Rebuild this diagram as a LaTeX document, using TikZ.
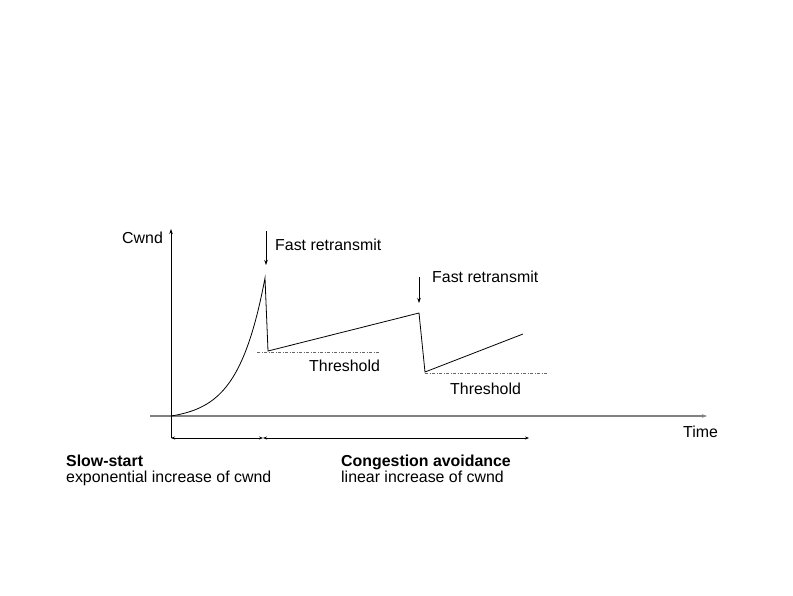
\documentclass[tikz,border=0pt]{standalone}
\usepackage{fontspec}
\setmainfont{Liberation Sans}
\usetikzlibrary{arrows.meta}
\begin{document}
\begin{tikzpicture}[x=1pt,y=-1pt,
  lbl/.style={anchor=base west,inner sep=0pt,font=\fontsize{15.9}{18}\selectfont},
  boldlbl/.style={lbl,font=\fontsize{15.9}{18}\selectfont\bfseries},
  tip/.style={-{Stealth[length=5pt,width=3.5pt]}},
  span/.style={{Stealth[length=4pt,width=3pt]}-{Stealth[length=4pt,width=3pt]},line width=0.6pt},
  thresh/.style={black!60,line width=0.9pt,dash pattern=on 3pt off 1.5pt on 1pt off 1.5pt},
  cwndline/.style={line width=0.8pt,line join=miter}]
\useasboundingbox (0,0) rectangle (793,595);

% axes
\coordinate (o) at (171,416);
\coordinate (xs) at (150,416);
\coordinate (xe) at (707,416);
\coordinate (yb) at (171,438);
\coordinate (ye) at (171,229);
\draw[gray,line width=1.2pt,-{Stealth[length=5pt,width=3.5pt]}] (xs) -- (xe);
\draw[tip,line width=0.7pt] (yb) -- (ye);
\node[lbl] (cwnd) at (122,243) {Cwnd};
\node[lbl] (time) at (683,437) {Time};

% congestion window
\coordinate (p1) at (265,278);
\coordinate (b1) at (268,351);
\coordinate (p2) at (419,313);
\coordinate (b2) at (425,372);
\coordinate (e2) at (523,334);
\draw[cwndline] plot[domain=0:94,samples=60,smooth] ({171+\x},{416-138*(exp(3.5*\x/94)-1)/(exp(3.5)-1)})
  -- (b1) -- (p2) -- (b2) -- (e2);

% thresholds
\coordinate (t1s) at (257,352);
\coordinate (t1e) at (380,352);
\coordinate (t2s) at (425,373);
\coordinate (t2e) at (547,373);
\draw[thresh] (t1s) -- (t1e);
\draw[thresh] (t2s) -- (t2e);
\node[lbl] (th1) at (309,371) {Threshold};
\node[lbl] (th2) at (450,394) {Threshold};

% fast retransmit markers
\coordinate (f1a) at (266,231);
\coordinate (f1b) at (266,265);
\coordinate (f2a) at (419,277);
\coordinate (f2b) at (419,303);
\draw[tip,line width=0.6pt] (f1a) -- (f1b);
\draw[tip,line width=0.6pt] (f2a) -- (f2b);
\node[lbl] (fr1) at (275,250) {Fast retransmit};
\node[lbl] (fr2) at (432,282) {Fast retransmit};

% phase spans
\coordinate (s0) at (171,438);
\coordinate (s1) at (263,438);
\coordinate (s2) at (529,438);
\draw[span] (s0) -- (s1);
\draw[span] (s1) -- (s2);
\node[boldlbl] (ss) at (66,466) {Slow-start};
\node[lbl] (ssd) at (66,482) {exponential increase of cwnd};
\node[boldlbl] (ca) at (341,466) {Congestion avoidance};
\node[lbl] (cad) at (341,482) {linear increase of cwnd};
\end{tikzpicture}
\end{document}
